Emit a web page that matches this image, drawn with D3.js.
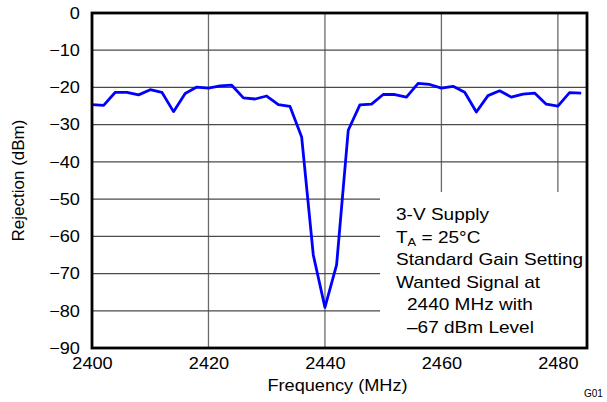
<!DOCTYPE html>
<html>
<head>
<meta charset="utf-8">
<script src="https://cdn.jsdelivr.net/npm/d3@7"></script>
<style>
html,body{margin:0;padding:0;background:#fff;}
svg{display:block;font-family:"Liberation Sans",Arial,sans-serif;}
</style>
</head>
<body>
<svg id="chart" width="607" height="402"></svg>
<script>
const frequencies = [2400,2402,2404,2406,2408,2410,2412,2414,2416,2418,2420,2422,2424,2426,2428,2430,2432,2434,2436,2438,2440,2442,2444,2446,2448,2450,2452,2454,2456,2458,2460,2462,2464,2466,2468,2470,2472,2474,2476,2478,2480,2482,2484];
const rejection = [-24.6,-24.8,-21.3,-21.3,-22.0,-20.6,-21.3,-26.5,-21.6,-19.9,-20.2,-19.6,-19.4,-22.8,-23.1,-22.3,-24.6,-25.1,-33.3,-65.0,-79.1,-67.7,-31.5,-24.7,-24.5,-21.9,-21.9,-22.6,-18.9,-19.2,-20.2,-19.7,-21.3,-26.6,-22.2,-20.9,-22.6,-21.8,-21.5,-24.5,-25.0,-21.4,-21.5];
const xTicks = [2400,2420,2440,2460,2480];
const yTicks = [0,-10,-20,-30,-40,-50,-60,-70,-80,-90];
const notes = ["3-V Supply","T|A| = 25°C","Standard Gain Setting","Wanted Signal at","2440 MHz with","\u201367 dBm Level"];

const svg = d3.select("#chart");
const L = 92, R = 587, T = 13, B = 348;
const SX = 1.1; // horizontal text stretch seen in the reference
const x = d3.scaleLinear().domain([2400, 2485]).range([L, R]);
const y = d3.scaleLinear().domain([-90, 0]).range([B, T]);

// gridlines
const g = svg.append("g");
g.selectAll(".vg").data(xTicks.slice(1)).join("line")
  .attr("x1", d => x(d)).attr("x2", d => x(d)).attr("y1", T).attr("y2", B)
  .attr("stroke", "#6a6a6a").attr("stroke-width", 1.3);
g.selectAll(".hg").data(yTicks.slice(1, -1)).join("line")
  .attr("x1", L).attr("x2", R).attr("y1", d => y(d)).attr("y2", d => y(d))
  .attr("stroke", "#4a4a4a").attr("stroke-width", 1.3);

// white box behind annotation
svg.append("rect").attr("x", 380).attr("y", 192).attr("width", R - 380).attr("height", B - 192).attr("fill", "#fff");

// data line
const line = d3.line().x((d, i) => x(frequencies[i])).y(d => y(d));
svg.append("path").datum(rejection).attr("d", line)
  .attr("fill", "none").attr("stroke", "#0000ff").attr("stroke-width", 2.8).attr("stroke-linejoin", "round");

// frame
svg.append("rect").attr("x", L).attr("y", T).attr("width", R - L).attr("height", B - T)
  .attr("fill", "none").attr("stroke", "#000").attr("stroke-width", 2.8);

const fmt = d => d < 0 ? "\u2212" + Math.abs(d) : String(d);
const yAxis = svg.append("g").attr("transform", `translate(${L},0)`)
  .call(d3.axisLeft(y).tickValues(yTicks).tickSize(0).tickPadding(11).tickFormat(fmt));
yAxis.select(".domain").remove();
yAxis.selectAll("text").attr("font-size", 16.5).attr("font-family", "Liberation Sans, Arial, sans-serif").attr("fill", "#000")
  .attr("transform", `scale(${SX},1)`);

const xAxis = svg.append("g").attr("transform", `translate(0,${B})`)
  .call(d3.axisBottom(x).tickValues(xTicks).tickSize(0).tickPadding(9).tickFormat(d => String(d)));
xAxis.select(".domain").remove();
xAxis.selectAll("text").attr("font-size", 16.5).attr("font-family", "Liberation Sans, Arial, sans-serif").attr("fill", "#000")
  .attr("transform", `scale(${SX},1)`);

svg.append("text").attr("transform", `translate(${(L + R) / 2 - 2},391) scale(${SX},1)`).attr("text-anchor", "middle")
  .attr("font-size", 16.5).text("Frequency (MHz)");
svg.append("text").attr("transform", `translate(24,${(T + B) / 2}) rotate(-90)`).attr("text-anchor", "middle")
  .attr("font-size", 17).text("Rejection (dBm)");
svg.append("text").attr("x", 584).attr("y", 397).attr("font-size", 10).text("G01");

// annotation
const ann = svg.append("g");
notes.forEach((s, i) => {
  const indent = i >= 4 ? 11 : 0;
  const t = ann.append("text").attr("transform", `translate(${396 + indent},${220 + i * 22.6}) scale(1.12,1)`).attr("font-size", 17);
  if (s.includes("|")) {
    const parts = s.split("|");
    t.append("tspan").text(parts[0]);
    t.append("tspan").attr("font-size", 11.5).attr("dy", 3).text(parts[1]);
    t.append("tspan").attr("dy", -3).text(parts[2]);
  } else {
    t.text(s);
  }
});
</script>
</body>
</html>
